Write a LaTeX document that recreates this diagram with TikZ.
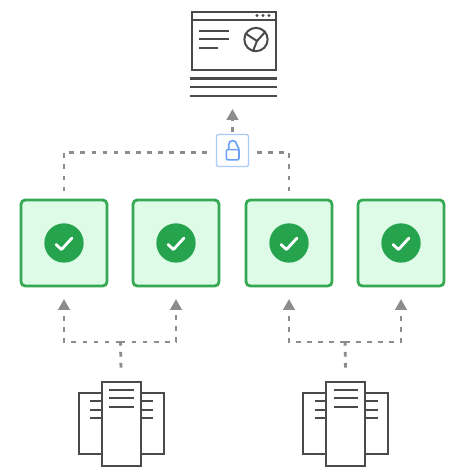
\documentclass[tikz,border=0pt]{standalone}
\usepackage{xcolor}
\usetikzlibrary{arrows.meta,positioning}
\definecolor{boxgreen}{HTML}{34A853}
\definecolor{darkgreen}{HTML}{26A34D}
\definecolor{palegreen}{HTML}{DDFBE6}
\definecolor{lockblue}{HTML}{6AA1F8}
\definecolor{lockedge}{HTML}{A9CBFB}
\definecolor{icongray}{HTML}{4A4A4A}
\definecolor{dashgray}{HTML}{8C8C8C}

\begin{document}
\begin{tikzpicture}[x=0.75pt,y=-0.75pt,
    okbox/.style={draw=boxgreen,fill=palegreen,line width=2.1pt,rounded corners=3pt,minimum size=64.4pt,inner sep=0pt,outer sep=0pt},
    okdot/.style={circle,fill=darkgreen,minimum size=29.5pt,inner sep=0pt,outer sep=0pt},
    okmark/.style={draw=white,line width=2.1pt,line cap=round,line join=round},
    sheet/.style={draw=icongray,fill=white,line width=1.5pt,inner sep=0pt,outer sep=0pt},
    rule/.style={draw=icongray,line width=1.5pt},
    dashline/.style={draw=dashgray,line width=2.2pt,dash pattern=on 3.6pt off 4.7pt},
    tip/.style={-{Triangle[length=8.2pt,width=8.6pt]},dashgray}]
    \useasboundingbox (0,0) rectangle (452,467);

    % top window
    \node[sheet,minimum width=63pt,minimum height=44pt] (window) at (233.5,41) {};
    \draw[rule] (window.north west) ++(0,8.5) -- ++(85,0);
    \fill[icongray] (257,15.5) circle (1.6) (263,15.5) circle (1.6) (269,15.5) circle (1.6);
    \draw[rule] (199,30.7) -- (229,30.7);
    \draw[rule] (199,39.3) -- (229,39.3);
    \draw[rule] (199,47.7) -- (217.5,47.7);
    \node[circle,draw=icongray,line width=1.5pt,minimum size=17.5pt,inner sep=0pt] (chart) at (256,39.5) {};
    \coordinate (hub) at (257,41);
    \draw[rule] (hub) -- (chart.150) (hub) -- (chart.40) (hub) -- (chart.255);
    \draw[rule] (190,78.5) -- (277,78.5);
    \draw[rule] (190,87) -- (277,87);
    \draw[rule] (190,95.5) -- (277,95.5);

    % lock
    \node[draw=lockedge,fill=white,line width=1pt,rounded corners=1.5pt,minimum size=24pt,inner sep=0pt,outer sep=0pt] (lock) at (232.5,150.5) {};
    \node[draw=lockblue,line width=1.2pt,rounded corners=1pt,minimum width=9.5pt,minimum height=7.7pt,inner sep=0pt,outer sep=0pt] (body) at (232.7,154.7) {};
    \draw[draw=lockblue,line width=1.2pt] ([xshift=-3]body.north) -- ++(0,-5) arc[start angle=180,end angle=360,radius=4] -- ([xshift=5]body.north);

    % green boxes
    \node[okbox] (box1) at (64,243) {};
    \node[okbox] (box2) at (176,243) {};
    \node[okbox] (box3) at (289,243) {};
    \node[okbox] (box4) at (401,243) {};
    \node[okdot] (dot1) at (box1) {};
    \node[okdot] (dot2) at (box2) {};
    \node[okdot] (dot3) at (box3) {};
    \node[okdot] (dot4) at (box4) {};
    \draw[okmark] (dot1) ++(-8,1.5) -- ++(5.5,5) -- ++(10.5,-11.5);
    \draw[okmark] (dot2) ++(-8,1.5) -- ++(5.5,5) -- ++(10.5,-11.5);
    \draw[okmark] (dot3) ++(-8,1.5) -- ++(5.5,5) -- ++(10.5,-11.5);
    \draw[okmark] (dot4) ++(-8,1.5) -- ++(5.5,5) -- ++(10.5,-11.5);

    % left documents
    \node[sheet,minimum width=64pt,minimum height=46pt] (back1) at (121.3,423.3) {};
    \node[sheet,minimum width=29.5pt,minimum height=63pt] (page1) at (121.3,423.7) {};
    \draw[rule] (109.3,390) -- (133.7,390);
    \draw[rule] (109.3,398.3) -- (133.7,398.3);
    \draw[rule] (109.3,406.7) -- (133.7,406.7);
    \draw[rule] (90,401) -- (page1.west |- 0,401);
    \draw[rule] (90,409.7) -- (page1.west |- 0,409.7);
    \draw[rule] (90,418.3) -- (page1.west |- 0,418.3);
    \draw[rule] (page1.east |- 0,401) -- (153,401);
    \draw[rule] (page1.east |- 0,409.7) -- (153,409.7);
    \draw[rule] (page1.east |- 0,418.3) -- (153,418.3);

    % right documents
    \node[sheet,minimum width=64pt,minimum height=46pt] (back2) at (345.8,423.3) {};
    \node[sheet,minimum width=29.5pt,minimum height=63pt] (page2) at (345.8,423.7) {};
    \draw[rule] (333.8,390) -- (358.2,390);
    \draw[rule] (333.8,398.3) -- (358.2,398.3);
    \draw[rule] (333.8,406.7) -- (358.2,406.7);
    \draw[rule] (314.5,401) -- (page2.west |- 0,401);
    \draw[rule] (314.5,409.7) -- (page2.west |- 0,409.7);
    \draw[rule] (314.5,418.3) -- (page2.west |- 0,418.3);
    \draw[rule] (page2.east |- 0,401) -- (377.5,401);
    \draw[rule] (page2.east |- 0,409.7) -- (377.5,409.7);
    \draw[rule] (page2.east |- 0,418.3) -- (377.5,418.3);

    % connectors
    \coordinate (out) at (232.5,109);
    \coordinate (in1) at (64,299);
    \coordinate (in2) at (176,299);
    \coordinate (in3) at (289,299);
    \coordinate (in4) at (401,299);
    \coordinate (fork1) at (120.5,342);
    \coordinate (fork2) at (345,342);

    \path[dashline,shorten <=6.5pt] (box1.north) |- ([xshift=-3,yshift=-1.5]lock.west);
    \path[dashline,shorten <=6.5pt] (box3.north) |- ([xshift=3,yshift=-1.5]lock.east);
    \draw[dashline,tip,shorten <=2.2pt] (lock.north) -- (out);

    \path[dashline,shorten <=10.5pt] (page1.north) -- (fork1);
    \path[dashline,shorten <=10.5pt] (page2.north) -- (fork2);
    \draw[dashline,tip] (fork1) -| (in1);
    \draw[dashline,tip] (fork1) -| (in2);
    \draw[dashline,tip] (fork2) -| (in3);
    \draw[dashline,tip] (fork2) -| (in4);
\end{tikzpicture}
\end{document}
